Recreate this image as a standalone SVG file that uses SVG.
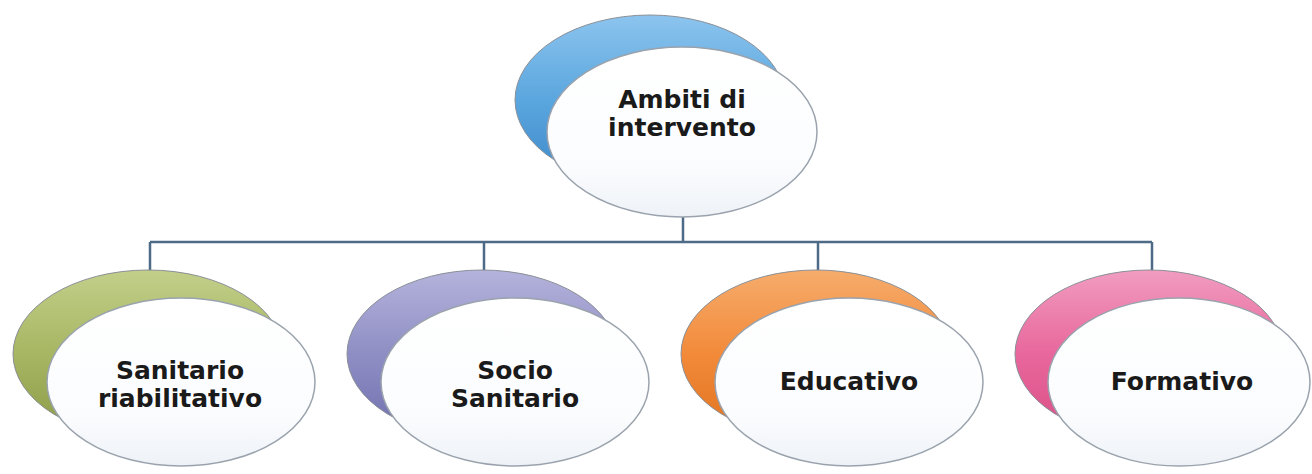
<svg xmlns="http://www.w3.org/2000/svg" width="1312" height="474" viewBox="0 0 1312 474">
<defs>
<linearGradient id="gBlue" x1="0" y1="0" x2="0" y2="1"><stop offset="0" stop-color="#8cc4ee"/><stop offset="0.5" stop-color="#5aa6de"/><stop offset="1" stop-color="#3d88c9"/></linearGradient>
<linearGradient id="gGreen" x1="0" y1="0" x2="0" y2="1"><stop offset="0" stop-color="#c2cf8a"/><stop offset="0.5" stop-color="#a6b662"/><stop offset="1" stop-color="#8a9a46"/></linearGradient>
<linearGradient id="gPurple" x1="0" y1="0" x2="0" y2="1"><stop offset="0" stop-color="#b4b3dc"/><stop offset="0.5" stop-color="#8f8ec4"/><stop offset="1" stop-color="#6f6fae"/></linearGradient>
<linearGradient id="gOrange" x1="0" y1="0" x2="0" y2="1"><stop offset="0" stop-color="#f6ac6c"/><stop offset="0.5" stop-color="#f28a3a"/><stop offset="1" stop-color="#e0731f"/></linearGradient>
<linearGradient id="gPink" x1="0" y1="0" x2="0" y2="1"><stop offset="0" stop-color="#f19cc0"/><stop offset="0.5" stop-color="#e8679c"/><stop offset="1" stop-color="#d94f86"/></linearGradient>
<linearGradient id="gWhite" x1="0" y1="0" x2="0" y2="1"><stop offset="0" stop-color="#ffffff"/><stop offset="0.7" stop-color="#fbfcfe"/><stop offset="1" stop-color="#eef2f7"/></linearGradient>
</defs>
<style>
.back{stroke:#8a8f96;stroke-width:1}
.front{fill:url(#gWhite);stroke:#9aa3ad;stroke-width:1.5}
.lbl{font-family:"DejaVu Sans",Verdana,sans-serif;font-weight:bold;font-size:25px;fill:#1a1a1a;text-anchor:middle}
.conn{fill:none;stroke:#4d6a86;stroke-width:2.5}
</style>
<rect width="1312" height="474" fill="#ffffff"/>
<g id="connectors">
<path class="conn" d="M683,216 V242 M150,242 H1152 M150,242 V272 M484,242 V272 M818,242 V272 M1152,242 V272"/>
</g>
<g id="node-root">
<ellipse class="back" cx="650" cy="100" rx="135" ry="85" fill="url(#gBlue)"/>
<ellipse class="front" cx="682" cy="132" rx="135" ry="85"/>
<text class="lbl" x="682" y="108">Ambiti di</text>
<text class="lbl" x="682" y="136">intervento</text>
</g>
<g id="node-sanitario">
<ellipse class="back" cx="148" cy="354" rx="135" ry="84" fill="url(#gGreen)"/>
<ellipse class="front" cx="181" cy="382" rx="134" ry="84"/>
<text class="lbl" x="180" y="379">Sanitario</text>
<text class="lbl" x="180" y="407">riabilitativo</text>
</g>
<g id="node-socio">
<ellipse class="back" cx="482" cy="354" rx="135" ry="84" fill="url(#gPurple)"/>
<ellipse class="front" cx="515" cy="382" rx="134" ry="84"/>
<text class="lbl" x="515" y="379">Socio</text>
<text class="lbl" x="515" y="407">Sanitario</text>
</g>
<g id="node-educativo">
<ellipse class="back" cx="816" cy="354" rx="135" ry="84" fill="url(#gOrange)"/>
<ellipse class="front" cx="849" cy="382" rx="134" ry="84"/>
<text class="lbl" x="849" y="390">Educativo</text>
</g>
<g id="node-formativo">
<ellipse class="back" cx="1149" cy="354" rx="134" ry="84" fill="url(#gPink)"/>
<ellipse class="front" cx="1179" cy="382" rx="131" ry="84"/>
<text class="lbl" x="1182" y="390">Formativo</text>
</g>
</svg>
